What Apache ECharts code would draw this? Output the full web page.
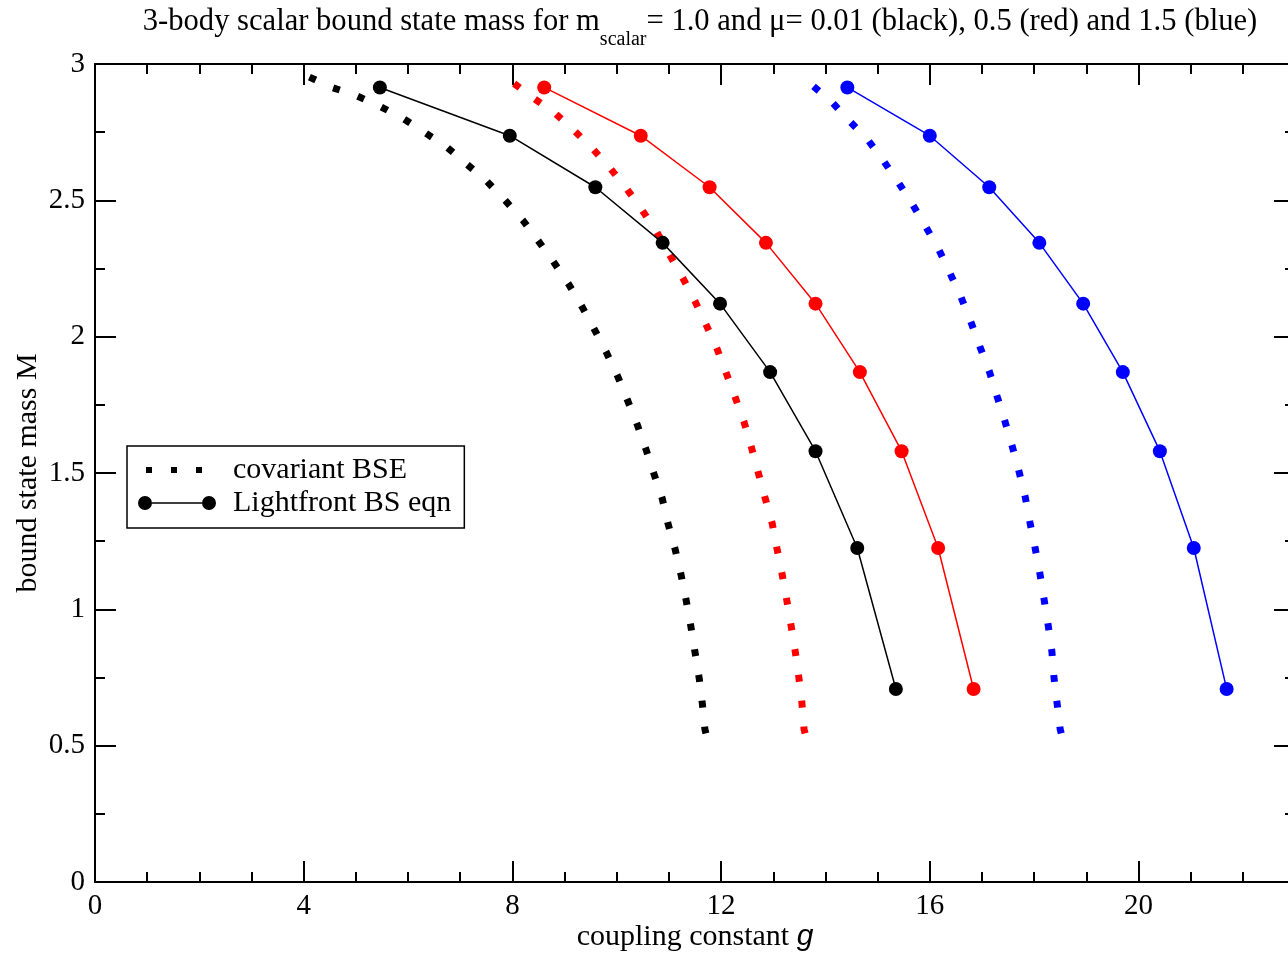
<!DOCTYPE html>
<html>
<head>
<meta charset="utf-8">
<script src="https://cdn.jsdelivr.net/npm/echarts@6/dist/echarts.min.js"></script>
<style>
  html, body { margin: 0; padding: 0; background: #fff; }
  #chart { width: 1288px; height: 953px; }
</style>
</head>
<body>
<div id="chart"></div>
<script>
// Bound state mass M (shared by all three light-front curves)
const lfMass = [2.914, 2.737, 2.548, 2.344, 2.121, 1.870, 1.580, 1.225, 0.708];

// Light-front BS equation: coupling constant g for each mass, per exchange mass mu
const lfCouplingBlack = [5.46, 7.95, 9.59, 10.88, 11.98, 12.94, 13.81, 14.61, 15.35];
const lfCouplingRed   = [8.61, 10.46, 11.78, 12.86, 13.81, 14.66, 15.46, 16.16, 16.84];
const lfCouplingBlue  = [14.42, 16.00, 17.14, 18.10, 18.94, 19.70, 20.41, 21.06, 21.69];

// Covariant BSE curves, ordered from low to high M: [g, M]
const covBlack = [
  [11.71, 0.545], [11.69, 0.560], [11.64, 0.655], [11.58, 0.748], [11.50, 0.843],
  [11.42, 0.938], [11.33, 1.034], [11.23, 1.129], [11.12, 1.220], [10.98, 1.316],
  [10.87, 1.408], [10.71, 1.499], [10.56, 1.587], [10.39, 1.679], [10.20, 1.770],
  [10.01, 1.858], [9.80, 1.943], [9.56, 2.031], [9.32, 2.115], [9.07, 2.195],
  [8.78, 2.277], [8.49, 2.353], [8.20, 2.427], [7.86, 2.500], [7.51, 2.570],
  [7.13, 2.632], [6.75, 2.694], [6.32, 2.749], [5.90, 2.801], [5.46, 2.845],
  [5.00, 2.885], [4.54, 2.914], [4.04, 2.958]
];
const covRed = [
  [13.61, 0.545], [13.59, 0.560], [13.55, 0.655], [13.49, 0.751], [13.42, 0.847],
  [13.34, 0.942], [13.26, 1.033], [13.17, 1.129], [13.07, 1.224], [12.98, 1.315],
  [12.84, 1.411], [12.71, 1.503], [12.58, 1.595], [12.44, 1.687], [12.27, 1.778],
  [12.10, 1.866], [11.92, 1.957], [11.71, 2.045], [11.50, 2.130], [11.27, 2.214],
  [11.02, 2.298], [10.77, 2.383], [10.49, 2.463], [10.20, 2.540], [9.89, 2.614],
  [9.55, 2.687], [9.20, 2.753], [8.82, 2.819], [8.41, 2.874], [7.95, 2.940]
];
const covBlue = [
  [18.52, 0.545], [18.50, 0.560], [18.44, 0.655], [18.38, 0.751], [18.34, 0.846],
  [18.27, 0.941], [18.19, 1.037], [18.11, 1.132], [18.02, 1.224], [17.92, 1.319],
  [17.83, 1.411], [17.71, 1.506], [17.58, 1.598], [17.44, 1.690], [17.29, 1.781],
  [17.14, 1.873], [16.96, 1.964], [16.79, 2.053], [16.60, 2.144], [16.39, 2.232],
  [16.18, 2.317], [15.93, 2.401], [15.68, 2.482], [15.41, 2.562], [15.12, 2.643],
  [14.82, 2.720], [14.47, 2.789], [14.13, 2.859], [13.71, 2.928]
];

const legendNames = ['covariant BSE', 'Lightfront BS eqn'];

const SERIF = '"Liberation Serif", "DejaVu Serif", serif';
const chart = echarts.init(document.getElementById('chart'));

function pairs(xs, ys) { return xs.map((x, i) => [x, ys[i]]); }

function covSeries(data, color) {
  return {
    name: legendNames[0], type: 'line', data: data, symbol: 'none',
    lineStyle: { color: color, width: 7, type: [7, 19], cap: 'butt' },
    itemStyle: { color: color }, silent: true, z: 2
  };
}
function lfSeries(xs, color) {
  return {
    name: legendNames[1], type: 'line', data: pairs(xs, lfMass),
    symbol: 'circle', symbolSize: 14,
    lineStyle: { color: color, width: 1.5 },
    itemStyle: { color: color, borderWidth: 0 }, silent: true, z: 3
  };
}

const axisLine = { show: true, onZero: false, lineStyle: { color: '#000', width: 2 } };
const tickStyle = { color: '#000', width: 2 };

chart.setOption({
  animation: false,
  backgroundColor: '#fff',
  title: {
    left: 695, top: 1, textAlign: 'center',
    text: '{a|3-body scalar bound state mass for m}{s|scalar}{a|= 1.0 and μ= 0.01 (black), 0.5 (red) and 1.5 (blue)}',
    textStyle: {
      fontWeight: 'normal',
      rich: {
        a: { fontFamily: SERIF, fontSize: 30.6, fontWeight: 'normal', color: '#000' },
        s: { fontFamily: SERIF, fontSize: 20, fontWeight: 'normal', color: '#000', verticalAlign: 'bottom', padding: [0, 0, -13, 0] }
      }
    }
  },
  legend: {
    orient: 'vertical', left: 127, top: 446,
    padding: [9, 13, 10, 11], itemGap: 3,
    itemWidth: 78, itemHeight: 14,
    backgroundColor: '#fff', borderColor: '#000', borderWidth: 1.5, borderRadius: 0,
    selectedMode: false,
    itemStyle: { borderWidth: 0 },
    textStyle: { fontFamily: SERIF, fontSize: 30, color: '#000', padding: [0, 0, 0, 12] },
    data: [
      { name: legendNames[0],
        icon: 'path://M0,0h0.01v0.01h-0.01Z M78,14h-0.01v-0.01h0.01Z M8,4h6v6h-6Z M33,4h6v6h-6Z M58,4h6v6h-6Z' },
      { name: legendNames[1],
        icon: 'path://M0,7a7,7 0 1,0 14,0a7,7 0 1,0 -14,0Z M64,7a7,7 0 1,0 14,0a7,7 0 1,0 -14,0Z M14,6.25h50v1.5h-50Z' }
    ]
  },
  grid: { left: 95, top: 64, width: 1200, height: 818, containLabel: false, outerBoundsMode: 'none' },
  xAxis: [{
    type: 'value', min: 0, max: 23, interval: 4, position: 'bottom',
    name: '{t|coupling constant }{g|g}', nameLocation: 'middle', nameGap: 40, nameMoveOverlap: false,
    nameTextStyle: { rich: {
      t: { fontFamily: SERIF, fontSize: 30, color: '#000' },
      g: { fontFamily: '"Liberation Sans", Arial, sans-serif', fontStyle: 'italic', fontSize: 30, color: '#000' }
    } },
    axisLine: axisLine,
    axisTick: { show: true, inside: true, length: 21, lineStyle: tickStyle },
    minorTick: { show: true, splitNumber: 4, length: 10, lineStyle: tickStyle },
    axisLabel: { show: true, margin: 10, fontFamily: SERIF, fontSize: 29, color: '#000',
      formatter: v => (v <= 20 ? String(v) : '') },
    splitLine: { show: false }, minorSplitLine: { show: false }
  }, {
    type: 'value', min: 0, max: 23, interval: 4, position: 'top',
    axisLine: axisLine,
    axisTick: { show: true, inside: true, length: 21, lineStyle: tickStyle },
    minorTick: { show: true, splitNumber: 4, length: 10, lineStyle: tickStyle },
    axisLabel: { show: false }, splitLine: { show: false }
  }],
  yAxis: [{
    type: 'value', min: 0, max: 3, interval: 0.5, position: 'left',
    name: 'bound state mass M', nameLocation: 'middle', nameGap: 52, nameMoveOverlap: false,
    nameTextStyle: { fontFamily: SERIF, fontSize: 30, color: '#000' },
    axisLine: axisLine,
    axisTick: { show: true, inside: true, length: 21, lineStyle: tickStyle },
    minorTick: { show: true, splitNumber: 2, length: 10, lineStyle: tickStyle },
    axisLabel: { show: true, margin: 10, fontFamily: SERIF, fontSize: 29, color: '#000' },
    splitLine: { show: false }, minorSplitLine: { show: false }
  }, {
    type: 'value', min: 0, max: 3, interval: 0.5, position: 'right',
    axisLine: axisLine,
    axisTick: { show: true, inside: true, length: 21, lineStyle: tickStyle },
    minorTick: { show: true, splitNumber: 2, length: 10, lineStyle: tickStyle },
    axisLabel: { show: false }, splitLine: { show: false }
  }],
  series: [
    covSeries(covBlack, '#000000'),
    covSeries(covRed, '#ff0000'),
    covSeries(covBlue, '#0000ff'),
    lfSeries(lfCouplingBlack, '#000000'),
    lfSeries(lfCouplingRed, '#ff0000'),
    lfSeries(lfCouplingBlue, '#0000ff')
  ]
});
</script>
</body>
</html>
